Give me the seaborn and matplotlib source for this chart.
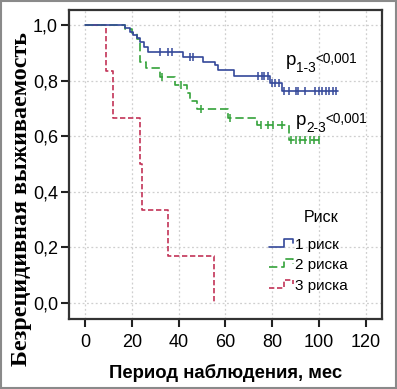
import numpy as np
import pandas as pd
import matplotlib
matplotlib.use("Agg")
import matplotlib.pyplot as plt
from matplotlib.legend_handler import HandlerBase
from matplotlib.lines import Line2D
from matplotlib.patches import Rectangle
import seaborn as sns

sns.set_style("white")
plt.rcParams["font.family"] = ["Liberation Sans", "DejaVu Sans"]
plt.rcParams["text.color"] = "black"
plt.rcParams["axes.labelcolor"] = "black"
plt.rcParams["xtick.color"] = "black"
plt.rcParams["ytick.color"] = "black"

# --- data ---
groups = ["1 риск", "2 риска", "3 риска"]

t1 = [0, 17, 19, 20.5, 22, 23.5, 25, 27, 42, 50.5, 55.5, 57, 63.5, 79, 84, 108]
s1 = [1.0, 0.99, 0.976, 0.964, 0.953, 0.94, 0.922, 0.904, 0.886, 0.868, 0.856, 0.84, 0.818, 0.79, 0.764, 0.764]
c1_t = [32, 35.5, 37, 45, 46, 74, 75.5, 76.5, 78, 80, 81, 83, 85, 87, 90, 91, 94,
        98.5, 100, 101.5, 103, 104.5, 106, 107.5]
c1_s = [0.904, 0.904, 0.904, 0.886, 0.886, 0.818, 0.818, 0.818, 0.818, 0.79, 0.79, 0.79,
        0.764, 0.764, 0.764, 0.764, 0.764, 0.764, 0.764, 0.764, 0.764, 0.764, 0.764, 0.764]

t2 = [0, 17, 20, 22, 23.5, 26, 32, 38.5, 43.5, 45, 48, 61, 73.5, 87, 100.5]
s2 = [1.0, 0.985, 0.97, 0.95, 0.868, 0.845, 0.812, 0.784, 0.755, 0.727, 0.698, 0.665, 0.64, 0.587, 0.587]
c2_t = [33, 41, 49.5, 62, 75, 78, 80.5, 84, 88, 90, 92, 94, 96, 98, 100]
c2_s = [0.812, 0.784, 0.698, 0.665, 0.64, 0.64, 0.64, 0.64,
        0.587, 0.587, 0.587, 0.587, 0.587, 0.587, 0.587]

t3 = [0, 9, 12, 23.3, 24.3, 35.2, 55]
s3 = [1.0, 0.833, 0.667, 0.5, 0.333, 0.167, 0.0]

y_ticks = [0.0, 0.2, 0.4, 0.6, 0.8, 1.0]
y_labels = ["0,0", "0,2", "0,4", "0,6", "0,8", "1,0"]
x_ticks = [0, 20, 40, 60, 80, 100, 120]

# p-value notes: (x, y, subscript, value)
p_notes = [(86.0, 0.856, "1-3", "<0,001"), (90.3, 0.64, "2-3", "<0,001")]

colors = ["#34489a", "#33a23a", "#c23358"]
dashes = [None, (5, 2.3), (3.2, 1.6)]

curves = pd.concat([
    pd.DataFrame({"time": t1, "surv": s1, "group": groups[0]}),
    pd.DataFrame({"time": t2, "surv": s2, "group": groups[1]}),
    pd.DataFrame({"time": t3, "surv": s3, "group": groups[2]}),
])
censor = pd.concat([
    pd.DataFrame({"time": c1_t, "surv": c1_s, "group": groups[0]}),
    pd.DataFrame({"time": c2_t, "surv": c2_s, "group": groups[1]}),
])

fig = plt.figure(figsize=(3.97, 3.89), dpi=100)
ax = fig.add_axes([0.174, 0.18, 0.788, 0.794])

# red first so blue/green sit on top
for g, col, d in reversed(list(zip(groups, colors, dashes))):
    sub = curves[curves["group"] == g]
    line_kw = dict(drawstyle="steps-post", color=col, lw=1.2, estimator=None, ax=ax)
    if d is not None:
        line_kw["dashes"] = d
    sns.lineplot(data=sub, x="time", y="surv", **line_kw)
    cs = censor[censor["group"] == g]
    if len(cs):
        ax.scatter(cs["time"], cs["surv"], marker="|", s=36, color=col, lw=1.1, zorder=3)

ax.set_xlim(-7, 127)
ax.set_ylim(-0.058, 1.054)
ax.set_xticks(x_ticks)
ax.set_yticks(y_ticks)
ax.set_yticklabels(y_labels)
ax.tick_params(axis="both", labelsize=13, length=6, width=1.5, color="#222222",
               direction="out", left=True, bottom=True)
ax.tick_params(axis="x", pad=5)
ax.tick_params(axis="y", pad=2)
ax.grid(True, color="#cfcfcf", ls=(0, (1.5, 2)), lw=0.9)
for sp in ax.spines.values():
    sp.set_color("#333333")
    sp.set_linewidth(1.6)

ax.set_xlabel("Период наблюдения, мес", fontsize=13.3, fontweight="bold", labelpad=9)
ax.set_ylabel("Безрецидивная выживаемость", fontsize=17.3, fontweight="bold",
              family="Liberation Serif")
ax.yaxis.set_label_coords(-0.12, 0.39)

# p_{1-3}<0,001 : big p, small subscript, small raised value
for x, y, s, v in p_notes:
    ax.annotate("p", (x, y), fontsize=13.5, va="baseline")
    ax.annotate(s, (x, y), xytext=(7.4, -5), textcoords="offset points",
                fontsize=9.8, va="baseline")
    ax.annotate(v, (x, y), xytext=(21, 1.5), textcoords="offset points",
                fontsize=9.8, va="baseline")


class StepHandler(HandlerBase):
    # little step-shaped legend key, like the SPSS survival legend
    def create_artists(self, legend, orig_handle, xdescent, ydescent,
                       width, height, fontsize, trans):
        lo, hi = 0.2 * height, 0.95 * height
        xs = [0, 0.6 * width, 0.6 * width, width, width]
        ys = [lo, lo, hi, hi, 0.55 * height]
        ln = Line2D(xs, ys)
        ln.update_from(orig_handle)
        ln.set_data(xs, ys)
        ln.set_transform(trans)
        return [ln]


handles = []
for g, col, d in zip(groups, colors, dashes):
    h = Line2D([], [], color=col, lw=1.2)
    if d is not None:
        h.set_dashes(d)
    handles.append(h)

leg = ax.legend(handles, groups, loc="lower right",
                bbox_to_anchor=(0.925, 0.05), frameon=False, fontsize=11,
                handlelength=1.6, handletextpad=0.1, borderpad=0.2,
                labelspacing=0.42, handler_map={Line2D: StepHandler()})
ax.text(0.862, 0.327, "Риск", transform=ax.transAxes, fontsize=11.5,
        ha="right", va="center")

fig.patches.append(Rectangle((0.002, 0.002), 0.996, 0.996, transform=fig.transFigure,
                             fill=False, edgecolor="#8a8a8a", lw=1.5))

fig.savefig("out.png", dpi=100)
